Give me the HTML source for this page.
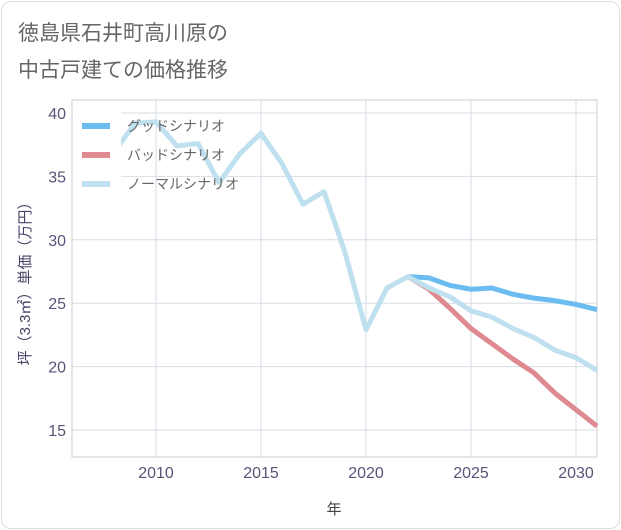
<!DOCTYPE html>
<html><head><meta charset="utf-8"><style>
body{margin:0;background:#fff;font-family:"Liberation Sans","Noto Sans CJK JP",sans-serif}
#card{position:absolute;left:1px;top:1px;width:617px;height:526px;border:1px solid #ddd;border-radius:10px;background:#fff}
text{font-family:"Liberation Sans","Noto Sans CJK JP",sans-serif}
</style></head><body>
<div id="card"></div>
<svg id="chart" width="621" height="530" style="position:absolute;left:0;top:0">
<text x="18" y="40" font-size="21" fill="#666">徳島県石井町高川原の</text>
<text x="18" y="77" font-size="21" fill="#666">中古戸建ての価格推移</text>
<rect x="72" y="100" width="525" height="357" fill="#fff" stroke="#ccc"/>
<g id="grid"></g><g id="series"></g><g id="legend"></g>
<text x="334" y="514" font-size="15" fill="#444" text-anchor="middle">年</text>
<text transform="translate(30,280) rotate(-90)" font-size="15" fill="#446" text-anchor="middle">坪（3.3㎡）単価（万円）</text>
</svg>
<script>
const years=[2008,2009,2010,2011,2012,2013,2014,2015,2016,2017,2018,2019,2020,2021,2022,2023,2024,2025,2026,2027,2028,2029,2030,2031];
const normal=[36.9,39.2,39.3,37.4,37.6,34.5,36.8,38.4,36,32.8,33.8,29,22.9,26.2,27.1,26.2,25.5,24.4,23.9,23,22.3,21.3,20.7,19.7];
const fcYears=[2022,2023,2024,2025,2026,2027,2028,2029,2030,2031];
const good=[27.1,27.0,26.4,26.1,26.2,25.7,25.4,25.2,24.9,24.5];
const bad=[27.1,26.1,24.6,23.0,21.8,20.6,19.5,17.9,16.6,15.3];
const xTicks=[2010,2015,2020,2025,2030];
const yTicks=[15,20,25,30,35,40];
const NS='http://www.w3.org/2000/svg';
const X=v=>72+(v-2006)*21, Y=v=>113+(40-v)*12.68;
function mk(t,a,p){const e=document.createElementNS(NS,t);for(const k in a)e.setAttribute(k,a[k]);p.appendChild(e);return e;}
const grid=document.getElementById('grid');
xTicks.forEach(t=>{const l=mk('line',{x1:X(t),x2:X(t),y1:100,y2:457,stroke:'#d5dde5'},grid);


const tx=mk('text',{x:X(t),y:478,'font-size':16,fill:'#557','text-anchor':'middle'},grid);tx.textContent=t;

});
yTicks.forEach(t=>{const l=mk('line',{x1:72,x2:597,y1:Y(t),y2:Y(t),stroke:'#d5dde5'},grid);


const tx=mk('text',{x:66,y:Y(t)+6,'font-size':16,fill:'#557','text-anchor':'end'},grid);tx.textContent=t;

});
const s=document.getElementById('series');
function line(xs,vs,c,name){const p=mk('polyline',{points:xs.map((y,i)=>X(y)+','+Y(vs[i])).join(' '),fill:'none',stroke:c,'stroke-width':5,'stroke-linejoin':'round'},s);

}
line(fcYears,good,'#6bbcf0','good-scenario-line');
line(fcYears,bad,'#de8a90','bad-scenario-line');
line(years,normal,'#bfe0ee','normal-scenario-line');
const lg=document.getElementById('legend');
const bg=mk('rect',{x:73,y:108,width:48,height:88,fill:'#fff'},lg);


[['グッドシナリオ','#6bbcf0'],['バッドシナリオ','#de8a90'],['ノーマルシナリオ','#bfe0ee']].forEach((d,i)=>{const y=126+i*29;
const r=mk('line',{x1:82,x2:110,y1:y,y2:y,stroke:d[1],'stroke-width':6},lg);


const t=mk('text',{x:127,y:y+5,'font-size':14,fill:'#666'},lg);t.textContent=d[0];

});
</script>
</body></html>
